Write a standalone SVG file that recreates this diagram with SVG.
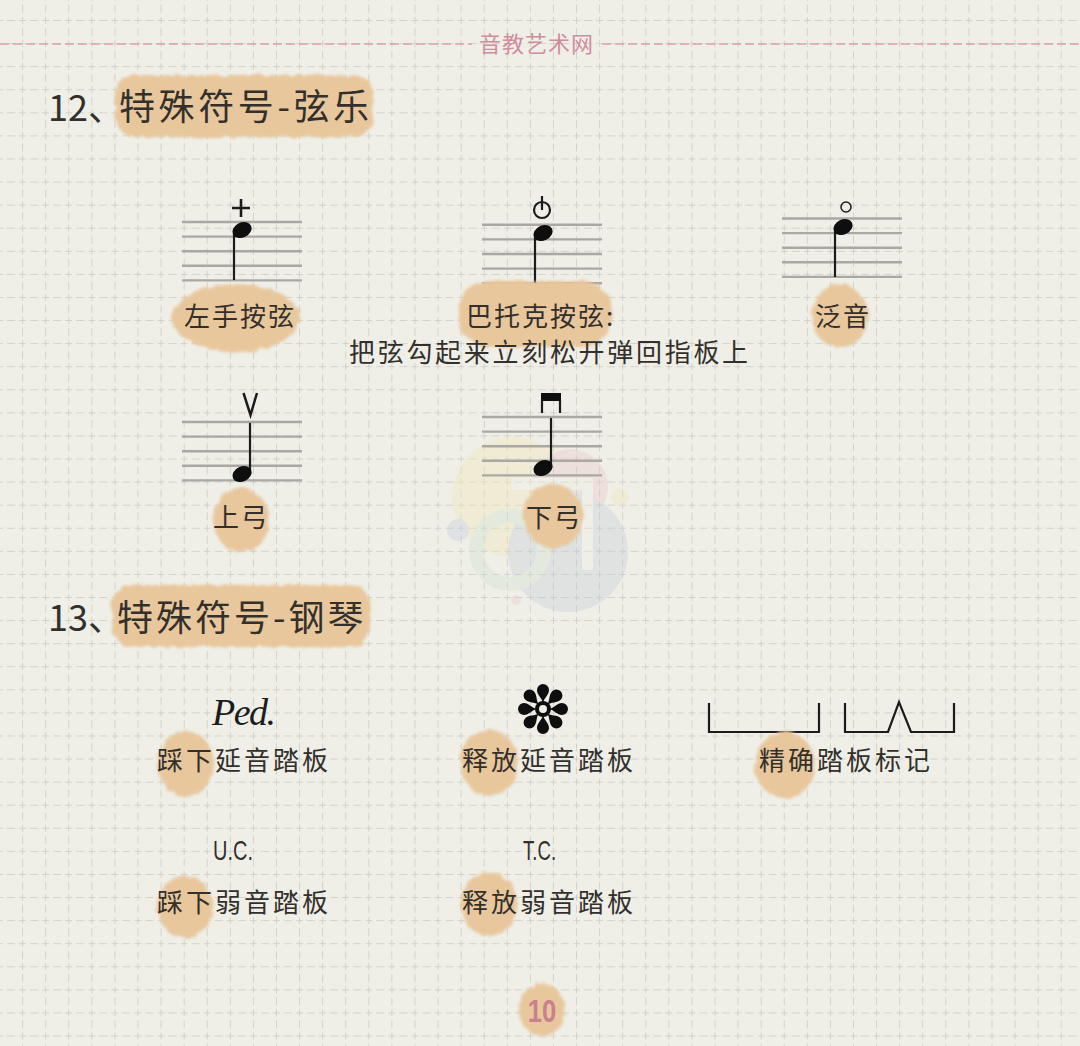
<svg xmlns="http://www.w3.org/2000/svg" width="1080" height="1046" viewBox="0 0 1080 1046">
<style>
text{font-family:"Noto Sans CJK SC","Noto Sans",sans-serif;fill:#33302c}
.t{font-size:36px;letter-spacing:3.600px}
.l{font-size:26px;letter-spacing:2px}
.w{letter-spacing:3px}
.blob{fill:#e8c79d;filter:url(#rough)}
.s{stroke:#a9a8a2;stroke-width:2.4;fill:none}
.k{stroke:#1c1c1c;stroke-width:2.2;fill:none}
.h{fill:#0e0e0e}
.logo{opacity:.36}
</style>
<defs>
<filter id="rough" x="-15%" y="-15%" width="130%" height="130%">
<feTurbulence type="fractalNoise" baseFrequency="0.14" numOctaves="3" seed="4"/>
<feDisplacementMap in="SourceGraphic" scale="6" xChannelSelector="R" yChannelSelector="G"/>
<feGaussianBlur stdDeviation="1.800"/>
</filter>
<pattern id="grid" patternUnits="userSpaceOnUse" width="23.08" height="23.08" x="0" y="-2.1">
<path d="M0 23.08H3M7 23.08H15M19 23.08H23.08M23.08 0V3M23.08 7V15M23.08 19V23.08" stroke="#c9c9c1" stroke-width="1.500" fill="none"/>
</pattern>
<g id="head"><ellipse class="h" rx="10" ry="7.500" transform="rotate(-25)"/></g>
<g id="staff"><path class="s" d="M0 0H120M0 14.6H120M0 29.2H120M0 43.8H120M0 58.4H120"/></g>
<path id="petal" class="h" d="M0-6C-1-11-6-14-6-19A6 6 0 0 1 6-19C6-14 1-11 0-6Z"/>
</defs>
<rect width="1080" height="1046" fill="#efefe8"/>
<rect width="1080" height="1046" fill="url(#grid)"/>
<g id="watermark" class="logo">
<circle cx="512" cy="497" r="60" fill="#f2e6b4"/>
<circle cx="570" cy="487" r="38" fill="#ecc6c6"/>
<circle cx="568" cy="552" r="60" fill="#c4ccd6"/>
<circle cx="510" cy="550" r="34" fill="none" stroke="#cfe3cc" stroke-width="14"/>
<circle cx="458" cy="530" r="11" fill="#c3cbdd"/>
<circle cx="620" cy="497" r="9" fill="#f2e6b4"/>
<circle cx="516" cy="600" r="5" fill="#ecc6c6"/>
<path d="M582 480H593V570H582ZM512 478H593V490H512Z" fill="#efefe8"/>
</g>
<g id="header">
<path d="M0 44H472M602 44H1080" stroke="#d8a3aa" stroke-width="1.600" stroke-dasharray="9 4" fill="none"/>
<text x="536.500" y="52" text-anchor="middle" font-size="22" letter-spacing="1" style="fill:#cf8d9a">音教艺术网</text>
</g>
<g id="title-12">
<rect class="blob" x="115" y="75" width="258" height="62" rx="20"/>
<text x="48" y="121" font-size="36">12、</text>
<text class="t" x="119" y="120">特殊符号-弦乐</text>
</g>
<g id="left-pizz">
<use href="#staff" x="182" y="222"/>
<path class="k" d="M234 231V280"/>
<path d="M241 199V217M232 208H250" stroke="#1c1c1c" stroke-width="2.600" fill="none"/>
<use href="#head" x="242" y="230"/>
<ellipse class="blob" cx="236" cy="318" rx="64" ry="34"/>
<text class="l" x="184" y="326">左手按弦</text>
</g>
<g id="bartok-pizz">
<use href="#staff" x="482" y="224.800"/>
<path class="k" d="M535 234V283"/>
<path class="k" d="M542 196V210"/><circle class="k" cx="542" cy="210" r="8"/>
<use href="#head" x="543" y="233"/>
<rect class="blob" x="458" y="281" width="154" height="66" rx="30"/>
<text class="l" x="466" y="326">巴托克按弦:</text>
<text class="l" x="349" y="362" style="letter-spacing:2.700px">把弦勾起来立刻松开弹回指板上</text>
</g>
<g id="harmonic">
<use href="#staff" x="782" y="218.500"/>
<path class="k" d="M835 228V277"/>
<use href="#head" x="843" y="227"/>
<circle cx="846" cy="207" r="5" fill="none" stroke="#1c1c1c" stroke-width="1.500"/>
<ellipse class="blob" cx="840" cy="316" rx="28" ry="32"/>
<text class="l" x="815" y="326">泛音</text>
</g>
<g id="up-bow">
<use href="#staff" x="182" y="422"/>
<path class="k" d="M250 423V472"/>
<path d="M243.500 393L250.500 415L257 393" stroke="#1c1c1c" stroke-width="2.500" fill="none"/>
<use href="#head" x="242" y="474"/>
<ellipse class="blob" cx="241" cy="520" rx="28" ry="32"/>
<text class="l" x="213" y="527">上弓</text>
</g>
<g id="down-bow">
<use href="#staff" x="482" y="417"/>
<path class="k" d="M551 418V467M542 400V413M560 400V413"/>
<rect class="h" x="541" y="393" width="20" height="8"/>
<use href="#head" x="543" y="468"/>
<ellipse class="blob" cx="553" cy="516" rx="30" ry="32"/>
<text class="l" x="526" y="527">下弓</text>
</g>
<g id="title-13">
<rect class="blob" x="112" y="585" width="258" height="62" rx="20"/>
<text x="48" y="631" font-size="36">13、</text>
<text class="t" x="117" y="631" style="letter-spacing:3px">特殊符号-钢琴</text>
</g>
<g id="ped-down">
<text x="212" y="725" font-size="38" font-style="italic" style="font-family:'Liberation Serif',serif;fill:#1c1c1c;letter-spacing:-1.500px">Ped.</text>
<ellipse class="blob" cx="186" cy="764" rx="28" ry="33"/>
<text class="l w" x="157" y="770">踩下延音踏板</text>
</g>
<g id="ped-up">
<g transform="translate(543 709)">
<use href="#petal"/><use href="#petal" transform="rotate(45)"/><use href="#petal" transform="rotate(90)"/><use href="#petal" transform="rotate(135)"/><use href="#petal" transform="rotate(180)"/><use href="#petal" transform="rotate(225)"/><use href="#petal" transform="rotate(270)"/><use href="#petal" transform="rotate(315)"/>
<circle r="8" fill="#0e0e0e"/><circle r="4" fill="#efefe8"/>
</g>
<ellipse class="blob" cx="489" cy="763" rx="29" ry="33"/>
<text class="l w" x="462" y="770">释放延音踏板</text>
</g>
<g id="ped-precise">
<path class="k" d="M709 703V732H819V703M845 703V732H888L899 702L911 732H954V703"/>
<ellipse class="blob" cx="785" cy="765" rx="30" ry="33"/>
<text class="l w" x="759" y="770">精确踏板标记</text>
</g>
<g id="uc-down">
<text transform="translate(213 860) scale(.74 1)" font-size="27" style="font-family:'Liberation Sans',sans-serif">U.C.</text>
<ellipse class="blob" cx="185" cy="907" rx="28" ry="31"/>
<text class="l w" x="157" y="912">踩下弱音踏板</text>
</g>
<g id="tc-up">
<text transform="translate(523 860) scale(.69 1)" font-size="27" style="font-family:'Liberation Sans',sans-serif">T.C.</text>
<ellipse class="blob" cx="489" cy="904" rx="28" ry="32"/>
<text class="l w" x="462" y="912">释放弱音踏板</text>
</g>
<g id="page-number">
<ellipse class="blob" cx="542" cy="1010" rx="23" ry="26"/>
<text transform="translate(542 1022) scale(.8 1)" text-anchor="middle" font-size="32" style="fill:#c8808e;font-family:'Liberation Sans',sans-serif;font-weight:bold">10</text>
</g>
</svg>
